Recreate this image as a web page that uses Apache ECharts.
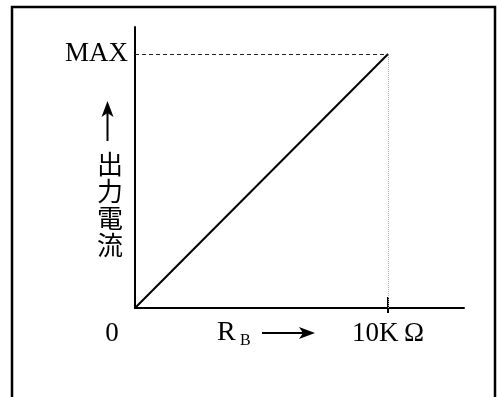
<!DOCTYPE html>
<html>
<head>
<meta charset="utf-8">
<script src="https://cdn.jsdelivr.net/npm/echarts@6/dist/echarts.min.js"></script>
<style>
  html, body { margin: 0; padding: 0; background: #fff; }
  #chart { width: 497px; height: 397px; }
</style>
</head>
<body>
<div id="chart"></div>
<script>
  // 出力電流 vs R_B (0 .. 10KΩ), linear up to MAX
  const resistance = [0, 10];      // kΩ
  const current = [0, 1];          // 1 = MAX
  const xTickValues = [10];
  const xLabelValues = [0, 10];
  const xLabelText = ['0', '10K\u2009Ω'];
  const yLabelValues = [1];
  const yLabelText = ['MAX'];

  const serif = '"Liberation Serif", "DejaVu Serif", serif';
  const cjk = '"Noto Sans CJK JP", sans-serif';

  let chart = echarts.init(document.getElementById('chart'));

  chart.setOption({
    animation: false,
    grid: { left: 135, right: 33, top: 27, bottom: 89 },
    xAxis: [
      {
        type: 'value',
        min: 0,
        max: 13,
        splitLine: { show: false },
        axisLine: { lineStyle: { color: '#000', width: 2 } },
        axisTick: { customValues: xTickValues, length: 5, lineStyle: { color: '#000', width: 2 } },
        axisLabel: {
          customValues: xLabelValues,
          margin: 12,
          color: '#000',
          fontFamily: serif,
          fontSize: 27,
          formatter: function (v) {
            let i = xLabelValues.indexOf(v);
            return i === 0 ? '{z|' + xLabelText[i] + '}' : xLabelText[i];
          },
          rich: {
            z: { fontFamily: serif, fontSize: 27, color: '#000', padding: [0, 46, 0, 0] }
          }
        }
      },
      {
        // upper half of the 10KΩ tick
        type: 'value',
        min: 0,
        max: 13,
        position: 'bottom',
        splitLine: { show: false },
        axisLine: { show: false },
        axisLabel: { show: false },
        axisTick: { customValues: xTickValues, inside: true, length: 11, lineStyle: { color: '#000', width: 2 } }
      }
    ],
    yAxis: {
      type: 'value',
      min: 0,
      max: 1.106,
      splitLine: { show: false },
      axisLine: { show: true, lineStyle: { color: '#000', width: 2 } },
      axisTick: { show: false },
      axisLabel: {
        customValues: yLabelValues,
        margin: 7,
        color: '#000',
        fontFamily: serif,
        fontSize: 27,
        formatter: function (v) {
          return yLabelText[yLabelValues.indexOf(v)];
        }
      }
    },
    series: [
      {
        type: 'line',
        data: resistance.map((r, i) => [r, current[i]]),
        symbol: 'none',
        lineStyle: { color: '#000', width: 2 },
        markLine: {
          symbol: 'none',
          silent: true,
          label: { show: false },
          data: [
            [
              { coord: [0, current[1]], lineStyle: { color: '#222', width: 1, type: [4, 3] } },
              { coord: [resistance[1], current[1]] }
            ],
            [
              { coord: [resistance[1], 0], lineStyle: { color: '#aaa', width: 1, type: [1, 1] } },
              { coord: [resistance[1], current[1]] }
            ]
          ]
        }
      }
    ],
    graphic: [
      {
        type: 'rect',
        shape: { x: 12, y: 7, width: 483, height: 400 },
        style: { fill: null, stroke: '#000', lineWidth: 2.5 },
        silent: true
      },
      // y axis name: ↑ 出力電流
      {
        type: 'line',
        shape: { x1: 107.5, y1: 112, x2: 107.5, y2: 141 },
        style: { stroke: '#000', lineWidth: 2 }
      },
      {
        type: 'polygon',
        shape: { points: [[107.5, 101], [113.5, 117], [107.5, 113], [101.5, 117]] },
        style: { fill: '#000' }
      },
      {
        type: 'text',
        x: 110,
        y: 151,
        style: {
          text: '出\n力\n電\n流',
          font: '26px ' + cjk,
          lineHeight: 27,
          align: 'center',
          verticalAlign: 'top',
          fill: '#000'
        }
      },
      // x axis name: R_B →
      {
        type: 'text',
        x: 217,
        y: 333,
        style: { text: 'R', font: '28px ' + serif, align: 'left', verticalAlign: 'middle', fill: '#000' }
      },
      {
        type: 'text',
        x: 240,
        y: 341,
        style: { text: 'B', font: '16px ' + serif, align: 'left', verticalAlign: 'middle', fill: '#000' }
      },
      {
        type: 'line',
        shape: { x1: 262, y1: 333, x2: 306, y2: 333 },
        style: { stroke: '#000', lineWidth: 2 }
      },
      {
        type: 'polygon',
        shape: { points: [[315, 333], [299, 327], [303, 333], [299, 339]] },
        style: { fill: '#000' }
      }
    ]
  });
</script>
</body>
</html>
